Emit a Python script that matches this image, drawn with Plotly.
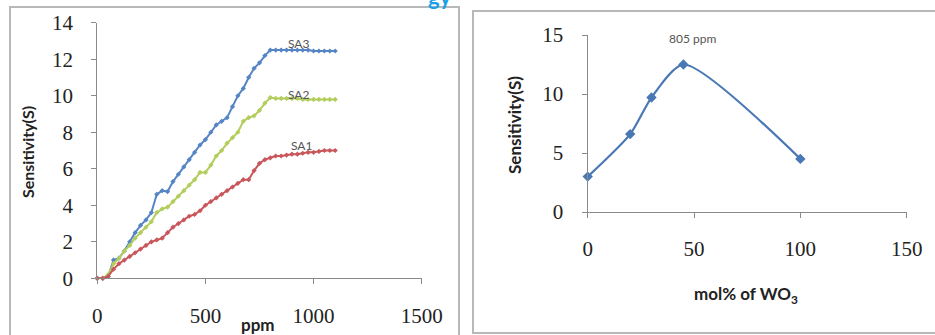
import plotly.graph_objects as go

# ---------------- data ----------------
ppm = [0, 25, 50, 75, 100, 125, 150, 175, 200, 225, 250, 275, 300, 325, 350, 375, 400,
       425, 450, 475, 500, 525, 550, 575, 600, 625, 650, 675, 700, 725, 750, 775, 800,
       825, 850, 875, 900, 925, 950, 975, 1000, 1025, 1050, 1075, 1100]
sa3 = [0, 0, 0.1, 1.0, 1.1, 1.5, 2.0, 2.5, 2.9, 3.2, 3.6, 4.6, 4.8, 4.75, 5.3, 5.7, 6.1,
       6.5, 6.9, 7.3, 7.6, 8.0, 8.4, 8.6, 8.8, 9.4, 10.0, 10.4, 11.0, 11.5, 11.8, 12.2, 12.5,
       12.5, 12.5, 12.5, 12.5, 12.5, 12.5, 12.5, 12.45, 12.45, 12.45, 12.45, 12.45]
sa2 = [0, 0, 0.2, 0.8, 1.1, 1.5, 1.8, 2.2, 2.5, 2.8, 3.1, 3.6, 3.8, 3.9, 4.2, 4.5, 4.8,
       5.1, 5.4, 5.8, 5.8, 6.2, 6.7, 7.0, 7.4, 7.7, 8.0, 8.6, 8.8, 8.9, 9.2, 9.6, 9.9,
       9.85, 9.85, 9.85, 9.85, 9.85, 9.8, 9.8, 9.8, 9.8, 9.8, 9.8, 9.8]
sa1 = [0, 0, 0.1, 0.5, 0.8, 1.0, 1.2, 1.4, 1.6, 1.8, 2.0, 2.1, 2.2, 2.5, 2.8, 3.0, 3.2,
       3.4, 3.5, 3.7, 4.0, 4.2, 4.4, 4.6, 4.8, 5.0, 5.2, 5.4, 5.4, 5.9, 6.3, 6.5, 6.6,
       6.7, 6.7, 6.75, 6.8, 6.8, 6.85, 6.9, 6.9, 6.95, 7.0, 7.0, 7.0]
series_names = ["SA3", "SA2", "SA1"]
label_pos = [(928, 12.87), (928, 10.04), (945, 7.3)]

mol_wo3 = [0, 20, 30, 45, 100]
sens_805 = [3.0, 6.6, 9.7, 12.5, 4.5]

left_xticks = [0, 500, 1000, 1500]
left_yticks = [0, 2, 4, 6, 8, 10, 12, 14]
right_xticks = [0, 50, 100, 150]
right_yticks = [0, 5, 10, 15]

# ---------------- figure ----------------
W, H = 935, 335
def px_x(p): return p / W
def px_y(p): return (H - p) / H

fig = go.Figure()
colors = ["#5585C5", "#B2CD5C", "#C9565A"]
for name, ys, c in zip(series_names, [sa3, sa2, sa1], colors):
    fig.add_trace(go.Scatter(x=ppm, y=ys, mode="lines+markers", name=name,
                             line=dict(color=c, width=2),
                             marker=dict(color=c, size=4, symbol="diamond"),
                             xaxis="x", yaxis="y", showlegend=False, cliponaxis=False))

fig.add_trace(go.Scatter(x=mol_wo3, y=sens_805, mode="lines+markers",
                         line=dict(color="#4A78B4", width=2.2, shape="spline", smoothing=0.7),
                         marker=dict(color="#4A78B4", size=8, symbol="diamond"),
                         xaxis="x2", yaxis="y2", showlegend=False, cliponaxis=False))

tickfont = dict(family="Liberation Serif", size=21, color="#222222")
axcommon = dict(showgrid=False, zeroline=False, showline=True, linecolor="#8a8a8a",
                linewidth=1.3, ticks="outside", ticklen=5, tickcolor="#8a8a8a",
                tickfont=tickfont, fixedrange=True, automargin=False)

fig.update_layout(
    width=W, height=H, margin=dict(l=0, r=0, t=0, b=0, pad=0, autoexpand=False),
    paper_bgcolor="white", plot_bgcolor="white", showlegend=False,
    xaxis=dict(domain=[px_x(97.3), px_x(421.7)], range=[0, 1500], tickvals=left_xticks,
               anchor="y", ticklabelstandoff=13, **axcommon),
    yaxis=dict(domain=[px_y(278.3), px_y(22.7)], range=[0, 14], tickvals=left_yticks,
               anchor="x", ticklabelstandoff=14, **axcommon),
    xaxis2=dict(domain=[px_x(587.7), px_x(906.7)], range=[0, 150], tickvals=right_xticks,
                anchor="y2", ticklabelstandoff=13, **axcommon),
    yaxis2=dict(domain=[px_y(212), px_y(35)], range=[0, 15], tickvals=right_yticks,
                anchor="x2", ticklabelstandoff=14, **axcommon),
)

def pa(x, y, text, size, color="#222", angle=0, family="Lato"):
    return dict(x=px_x(x), y=px_y(y), xref="paper", yref="paper", text=text,
                xanchor="center", yanchor="middle", textangle=angle, showarrow=False,
                font=dict(family=family, size=size, color=color))

annos = []
for name, (lx, ly) in zip(series_names, label_pos):
    annos.append(dict(x=lx, y=ly, xref="x", yref="y", text=name, showarrow=False,
                      xanchor="center", yanchor="middle",
                      font=dict(family="Lato", size=12, color="#555555")))
annos += [
    pa(27, 152, "<b>Sensitivity(S)</b>", 16, angle=-90),
    pa(258, 324, "<b>ppm</b>", 17),
    pa(515, 125, "<b>Sensitivity(S)</b>", 17, angle=-90),
    pa(746, 295, "<b>mol% of WO<sub>3</sub></b>", 17),
    pa(692, 39, "805 ppm", 12, color="#555555"),
    pa(440, -4, "<b>gy</b>", 22, color="#1A9FE8"),
]
fig.update_layout(annotations=annos)

fig.update_layout(shapes=[
    dict(type="rect", xref="paper", yref="paper", x0=px_x(10), x1=px_x(459),
         y0=px_y(345), y1=px_y(7), line=dict(color="#b8b8b8", width=2)),
    dict(type="rect", xref="paper", yref="paper", x0=px_x(473), x1=px_x(945),
         y0=px_y(333), y1=px_y(11), line=dict(color="#b8b8b8", width=2)),
])

fig.write_html("out.html", config={"displayModeBar": False},
               post_script="document.body.style.margin='0';document.body.style.overflow='hidden';")
